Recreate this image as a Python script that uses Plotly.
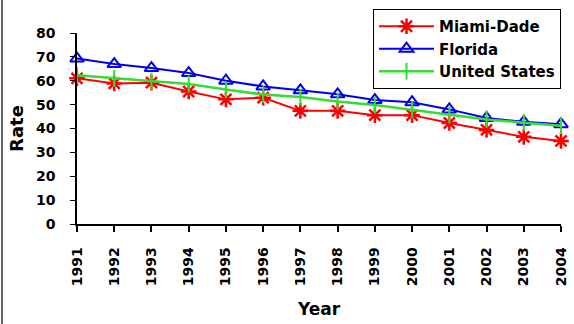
import plotly.graph_objects as go

years = [1991, 1992, 1993, 1994, 1995, 1996, 1997, 1998, 1999, 2000, 2001, 2002, 2003, 2004]
miami_dade = [61.0, 58.9, 59.2, 55.5, 52.2, 52.9, 47.4, 47.4, 45.6, 45.6, 42.3, 39.4, 36.5, 34.8]
florida = [69.3, 67.0, 65.3, 63.2, 60.0, 57.6, 56.0, 54.3, 51.9, 51.0, 48.0, 44.4, 42.8, 41.8]
united_states = [62.3, 61.0, 59.8, 58.6, 56.3, 54.2, 53.2, 51.3, 49.8, 47.8, 45.6, 43.8, 42.4, 41.2]
y_ticks = [0, 10, 20, 30, 40, 50, 60, 70, 80]

FONT = "Liberation Sans, Arial, sans-serif"
FONT_W = "DejaVu Sans, Liberation Sans, sans-serif"

L, R, T, B = 77, 13, 33, 100
PW, PH = 574 - L - R, 324 - T - B

fig = go.Figure()
fig.add_trace(go.Scatter(
    x=years, y=miami_dade, name="Miami-Dade", mode="lines+markers",
    line=dict(color="#FF0000", width=2),
    marker=dict(symbol="asterisk-open", size=13, line=dict(color="#FF0000", width=2.5)),
    cliponaxis=False))
fig.add_trace(go.Scatter(
    x=years, y=florida, name="Florida", mode="lines+markers",
    line=dict(color="#0000EE", width=2),
    marker=dict(symbol="triangle-up-open", size=12, color="#0000EE", line=dict(color="#0000EE", width=2)),
    cliponaxis=False))
fig.add_trace(go.Scatter(
    x=years, y=united_states, name="United States", mode="lines+markers",
    line=dict(color="#33DD33", width=2.5),
    marker=dict(symbol="line-ns-open", size=12, line=dict(color="#33DD33", width=2)),
    cliponaxis=False))

fig.update_layout(
    width=574, height=324,
    margin=dict(l=L, r=R, t=T, b=B, autoexpand=False),
    paper_bgcolor="white", plot_bgcolor="white",
    font=dict(family=FONT, color="black", size=13, weight="bold"),
    showlegend=True,
    legend=dict(
        x=(373 - L) / PW, y=1 + (T - 9) / PH,
        xanchor="left", yanchor="top",
        bgcolor="white", bordercolor="black", borderwidth=1,
        font=dict(family=FONT_W, size=15, color="black", weight="bold"),
        tracegroupgap=0, itemwidth=55,
    ),
    xaxis=dict(
        range=[1991, 2004], tickvals=years, ticktext=[str(y) for y in years],
        tickangle=-90, showgrid=False, zeroline=False,
        showline=True, linecolor="black", linewidth=1.5,
        ticks="outside", ticklen=6, tickcolor="black", tickwidth=1.5,
        ticklabelstandoff=10, automargin=False,
        tickfont=dict(family=FONT_W, size=14, weight="bold"),
        title=dict(text="Year", font=dict(family=FONT_W, size=17, weight="bold"), standoff=18),
    ),
    yaxis=dict(
        range=[0, 80], tickvals=y_ticks, showgrid=False, zeroline=False,
        showline=True, linecolor="black", linewidth=1.5,
        ticks="outside", ticklen=5, tickcolor="black", tickwidth=1,
        ticklabelstandoff=12, automargin=False,
        tickfont=dict(family=FONT_W, size=14, weight="bold"),
        title=dict(text="Rate", font=dict(family=FONT_W, size=18, weight="bold"), standoff=8),
    ),
)

fig.add_shape(type="line", xref="paper", yref="paper",
              x0=-(L - 2) / PW, x1=-(L - 2) / PW, y0=-1, y1=2,
              line=dict(color="#666666", width=2))

fig.write_html("out.html")
